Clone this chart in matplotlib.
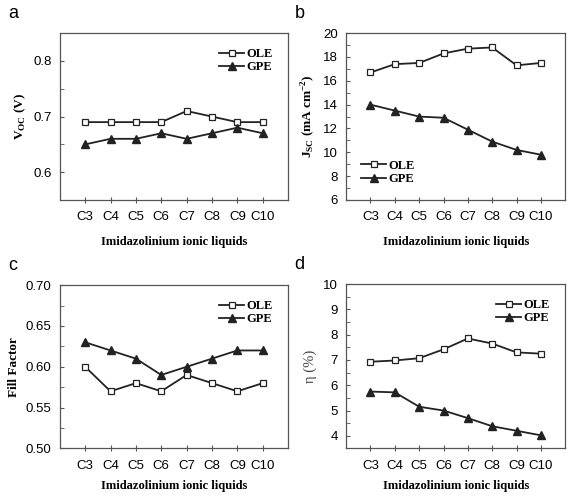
import matplotlib.pyplot as plt
import numpy as np
from matplotlib.ticker import MultipleLocator

plt.rcParams['mathtext.fontset'] = 'custom'
plt.rcParams['mathtext.rm'] = 'Liberation Serif:bold'
plt.rcParams['mathtext.bf'] = 'Liberation Serif:bold'

categories = ['C3', 'C4', 'C5', 'C6', 'C7', 'C8', 'C9', 'C10']

voc_ole = [0.69, 0.69, 0.69, 0.69, 0.71, 0.70, 0.69, 0.69]
voc_gpe = [0.65, 0.66, 0.66, 0.67, 0.66, 0.67, 0.68, 0.67]

jsc_ole = [16.7, 17.4, 17.5, 18.3, 18.7, 18.8, 17.3, 17.5]
jsc_gpe = [14.0, 13.5, 13.0, 12.9, 11.9, 10.9, 10.2, 9.8]

ff_ole = [0.60, 0.57, 0.58, 0.57, 0.59, 0.58, 0.57, 0.58]
ff_gpe = [0.63, 0.62, 0.61, 0.59, 0.60, 0.61, 0.62, 0.62]

eta_ole = [6.93, 6.98, 7.07, 7.42, 7.85, 7.65, 7.30, 7.25]
eta_gpe = [5.75, 5.72, 5.15, 5.00, 4.70, 4.38, 4.20, 4.02]

sans = 'Liberation Sans'
serif = 'Liberation Serif'
line_col = '#222222'
spine_col = '#555555'

fig = plt.figure(figsize=(5.75, 4.95), dpi=100)

panels = [
    # letter, rect, ole, gpe, ylim, major, minor, ylabel, legend loc, fmt
    ('a', [0.104, 0.596, 0.397, 0.337], voc_ole, voc_gpe, (0.55, 0.85), 0.1, 0.05,
     r'V$_{\mathbf{OC}}$ (V)', 'upper right', '%.1f'),
    ('b', [0.602, 0.596, 0.381, 0.337], jsc_ole, jsc_gpe, (6, 20), 2, 1,
     r'J$_{\mathbf{SC}}$ (mA cm$^{\mathbf{-2}}$)', 'lower left', '%d'),
    ('c', [0.104, 0.094, 0.397, 0.330], ff_ole, ff_gpe, (0.50, 0.70), 0.05, 0.025,
     'Fill Factor', 'upper right', '%.2f'),
    ('d', [0.602, 0.094, 0.381, 0.332], eta_ole, eta_gpe, (3.5, 10), 1, 0.5,
     'η (%)', 'upper right', '%d'),
]

x = np.arange(len(categories))
for letter, rect, ole, gpe, ylim, major, minor, ylabel, loc, fmt in panels:
    ax = fig.add_axes(rect)
    ax.plot(x, ole, color=line_col, lw=1.3, marker='s', ms=5,
            mfc='white', mec=line_col, mew=0.9, label='OLE')
    ax.plot(x, gpe, color=line_col, lw=1.3, marker='^', ms=6,
            mfc=line_col, mec=line_col, label='GPE')
    ax.set_xlim(-1, 8)
    ax.set_ylim(*ylim)
    ax.set_xticks(x)
    ax.set_xticklabels(categories, fontfamily=sans, fontsize=9.5)
    ax.yaxis.set_major_locator(MultipleLocator(major))
    ax.yaxis.set_minor_locator(MultipleLocator(minor))
    ax.yaxis.set_major_formatter(plt.FormatStrFormatter(fmt))
    for lab in ax.get_yticklabels():
        lab.set_fontfamily(sans)
        lab.set_fontsize(9.5)
    ax.tick_params(axis='y', which='both', direction='in', length=3,
                   color=spine_col, pad=6)
    ax.tick_params(axis='x', direction='inout', length=4, color=spine_col, pad=6)
    for s in ax.spines.values():
        s.set_color(spine_col)
        s.set_linewidth(0.9)
    top_row = letter in ('a', 'b')
    ax.set_xlabel('Imidazolinium ionic liquids', fontfamily=serif,
                  fontweight='bold', fontsize=9, labelpad=9 if top_row else 6)
    if letter == 'd':
        ax.set_ylabel(ylabel, fontfamily=serif, fontsize=10.5, color='#444444')
    else:
        ax.set_ylabel(ylabel, fontfamily=serif, fontweight='bold', fontsize=9.5)
    ax.legend(loc=loc, frameon=False, handlelength=2.0, handletextpad=0.2,
              labelspacing=0.1, borderaxespad=0.8,
              prop={'family': serif, 'weight': 'bold', 'size': 9})
    fig.text(rect[0] - 0.09, rect[1] + rect[3] + 0.04, letter,
             fontfamily=sans, fontsize=13, va='center', ha='left')

fig.savefig('out.png', dpi=100)
